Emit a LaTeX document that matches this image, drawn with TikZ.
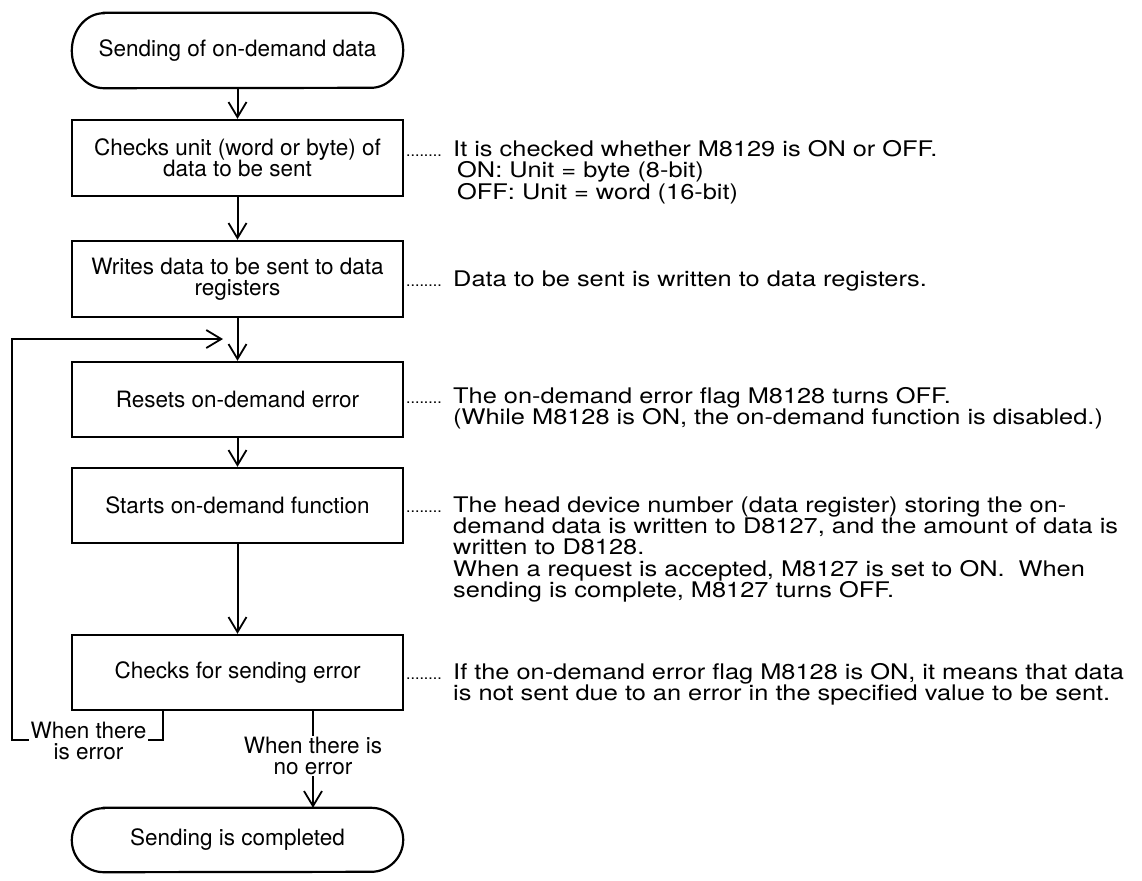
\documentclass[tikz,border=0pt]{standalone}
\usepackage{fontspec}
\setmainfont{TeX Gyre Heros}
\newfontfamily\notefam[FakeStretch=1.18]{TeX Gyre Heros}
\usetikzlibrary{arrows.meta}
\newcommand\boxfont{\fontsize{22.5}{21.5}\selectfont}
\newcommand\notefont{\notefam\fontsize{21.5}{21.5}\selectfont}
\newcommand\dotfont{\fontsize{16}{16}\selectfont}
\newcommand\notelines[1]{\vtop{\baselineskip=21.4pt\lineskiplimit=-30pt #1}}
\begin{document}
\begin{tikzpicture}[x=1pt,y=-1pt,
  box/.style={draw,line width=2.4pt,minimum width=331pt,minimum height=76pt,inner sep=0pt,align=center,font=\boxfont},
  term/.style={minimum width=331pt,inner sep=0pt,align=center,font=\boxfont},
  outline/.style={line width=2.2pt},
  conn/.style={line width=2pt},
  arr/.style={conn,-{Straight Barb[length=15pt,width=18pt,line width=1.8pt]}},
  note/.style={anchor=base west,inner sep=0pt,font=\notefont},
  dots/.style={anchor=base west,inner sep=0pt,font=\dotfont},
  lbl/.style={fill=white,align=center,inner xsep=2pt,inner ysep=1pt,font=\boxfont}]
\useasboundingbox (0,0) rectangle (1142,880);
\fill[white] (0,0) rectangle (1142,880);

% terminals
\node[term,minimum height=75pt] (st) at (237.5,50.5) {Sending of on-demand data};
\draw[outline] ([xshift=32pt]st.north west) -- ([xshift=-32pt]st.north east)
  arc[start angle=90,end angle=-90,x radius=32pt,y radius=37.5pt]
  -- ([xshift=32pt]st.south west)
  arc[start angle=270,end angle=90,x radius=32pt,y radius=37.5pt] -- cycle;

\node[term,minimum height=64pt] (en) at (237.5,840) {Sending is completed};
\draw[outline] ([xshift=32pt]en.north west) -- ([xshift=-32pt]en.north east)
  arc[start angle=90,end angle=-90,x radius=32pt,y radius=32pt]
  -- ([xshift=32pt]en.south west)
  arc[start angle=270,end angle=90,x radius=32pt,y radius=32pt] -- cycle;

% process boxes
\node[box] (b1) at (237.5,158) {Checks unit (word or byte) of\\data to be sent};
\node[box] (b2) at (237.5,279) {Writes data to be sent to data\\registers};
\node[box,minimum height=75pt] (b3) at (237.5,399.5) {Resets on-demand error};
\node[box,minimum height=75pt] (b4) at (237.5,505.5) {Starts on-demand function};
\node[box,minimum height=75pt] (b5) at (237.5,672.5) {Checks for sending error};

% main flow
\draw[arr] (st) -- (b1);
\draw[arr] (b1) -- (b2);
\draw[arr] (b2) -- (b3);
\draw[arr] (b3) -- (b4);
\draw[arr] (b4) -- (b5);

% error loop
\coordinate (ex) at (163,0);
\coordinate (lp) at (12,740);
\coordinate (fb) at (223,339);
\draw[arr] (b5.south -| ex) |- (lp) |- (fb);
\node[lbl] (el) at (88.5,741) {When there\\is error};

% no error
\coordinate (nx) at (313,0);
\draw[arr] (b5.south -| nx) -- (en.north -| nx);
\node[lbl] (nl) at (313,756) {When there is\\no error};

% notes
\node[dots] (d1) at (406,156.5) {........};
\node[note] (n1) at (453,156.5) {\notelines{\hbox{It is checked whether M8129 is ON or OFF.}\hbox{\hspace*{4pt}ON: Unit = byte (8-bit)}\hbox{\hspace*{4pt}OFF: Unit = word (16-bit)}}};
\node[dots] (d2) at (406,286) {........};
\node[note] (n2) at (453,286) {Data to be sent is written to data registers.};
\node[dots] (d3) at (406,403.5) {........};
\node[note] (n3) at (453,403.5) {\notelines{\hbox{The on-demand error flag M8128 turns OFF.}\hbox{(While M8128 is ON, the on-demand function is disabled.)}}};
\node[dots] (d4) at (406,512) {........};
\node[note] (n4) at (453,512) {\notelines{\hbox{The head device number (data register) storing the on-}\hbox{demand data is written to D8127, and the amount of data is}\hbox{written to D8128.}\hbox{When a request is accepted, M8127 is set to ON.~ When}\hbox{sending is complete, M8127 turns OFF.}}};
\node[dots] (d5) at (406,679.5) {........};
\node[note] (n5) at (453,679.5) {\notelines{\hbox{If the on-demand error flag M8128 is ON, it means that data}\hbox{is not sent due to an error in the specified value to be sent.}}};
\end{tikzpicture}
\end{document}
